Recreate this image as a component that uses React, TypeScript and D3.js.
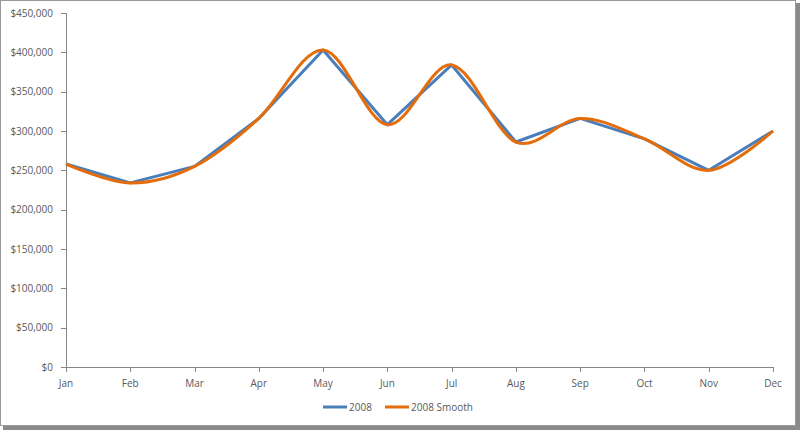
import React from "react";
import * as d3 from "d3";

const months = ["Jan", "Feb", "Mar", "Apr", "May", "Jun", "Jul", "Aug", "Sep", "Oct", "Nov", "Dec"];
const values2008 = [258000, 234000, 255000, 316000, 403000, 308000, 384000, 286000, 316000, 290000, 250000, 300000];
const yTicks = [0, 50000, 100000, 150000, 200000, 250000, 300000, 350000, 400000, 450000];
const seriesNames = ["2008", "2008 Smooth"];
const seriesColors = ["#4A7EBB", "#E46C0A"];

export default function App() {
  const W = 800, H = 430;
  const x = d3.scalePoint<string>().domain(months).range([66, 773]);
  const y = d3.scaleLinear().domain([0, 450000]).range([367, 13]);
  const fmt = (v: number) => "$" + d3.format(",")(v);
  const pts: [number, number][] = values2008.map((v, i) => [x(months[i]) as number, y(v)]);
  const straight = d3.line().curve(d3.curveLinear)(pts) || "";
  const smooth = d3.line().curve(d3.curveCardinal.tension(0))(pts) || "";
  const font = "'Open Sans', 'Noto Sans', sans-serif";
  const textColor = "#595959";
  const axisColor = "#868686";
  return (
    <svg width={W} height={H} style={{ position: "absolute", left: 0, top: 0, background: "#fff" }}>
      {/* frame with shadow */}
      <rect x={0} y={0} width={W} height={H} fill="#fff" />
      <rect x={796} y={3} width={4} height={427} fill="#8a8a8a" />
      <rect x={3} y={426} width={797} height={4} fill="#8a8a8a" />
      <rect x={0.5} y={0.5} width={795} height={425} fill="#fff" stroke="#9a9a9a" strokeWidth={1} />
      {/* y axis */}
      <line x1={66.5} x2={66.5} y1={y(450000)} y2={y(0)} stroke={axisColor} />
      {yTicks.map((t) => (
        <g key={t}>
          <line x1={61} x2={66} y1={Math.round(y(t)) + 0.5} y2={Math.round(y(t)) + 0.5} stroke={axisColor} />
          <text x={53} y={y(t)} dy="0.35em" textAnchor="end" fontFamily={font} fontSize={10} fill={textColor}>
            {fmt(t)}
          </text>
        </g>
      ))}
      {/* x axis */}
      <line x1={66} x2={773.5} y1={367.5} y2={367.5} stroke={axisColor} />
      {months.map((m) => (
        <g key={m}>
          <line x1={Math.round(x(m) as number) + 0.5} x2={Math.round(x(m) as number) + 0.5} y1={367} y2={372} stroke={axisColor} />
          <text x={x(m)} y={383} dy="0.35em" textAnchor="middle" fontFamily={font} fontSize={10} fill={textColor}>
            {m}
          </text>
        </g>
      ))}
      {/* series */}
      <path d={straight} fill="none" stroke={seriesColors[0]} strokeWidth={3} strokeLinejoin="round" />
      <path d={smooth} fill="none" stroke={seriesColors[1]} strokeWidth={3} strokeLinejoin="round" />
      {/* legend */}
      <line x1={323} x2={347} y1={407} y2={407} stroke={seriesColors[0]} strokeWidth={3} />
      <text x={349} y={407} dy="0.35em" fontFamily={font} fontSize={10} fill={textColor}>{seriesNames[0]}</text>
      <line x1={385} x2={409} y1={407} y2={407} stroke={seriesColors[1]} strokeWidth={3} />
      <text x={411} y={407} dy="0.35em" fontFamily={font} fontSize={10} fill={textColor}>{seriesNames[1]}</text>
    </svg>
  );
}
